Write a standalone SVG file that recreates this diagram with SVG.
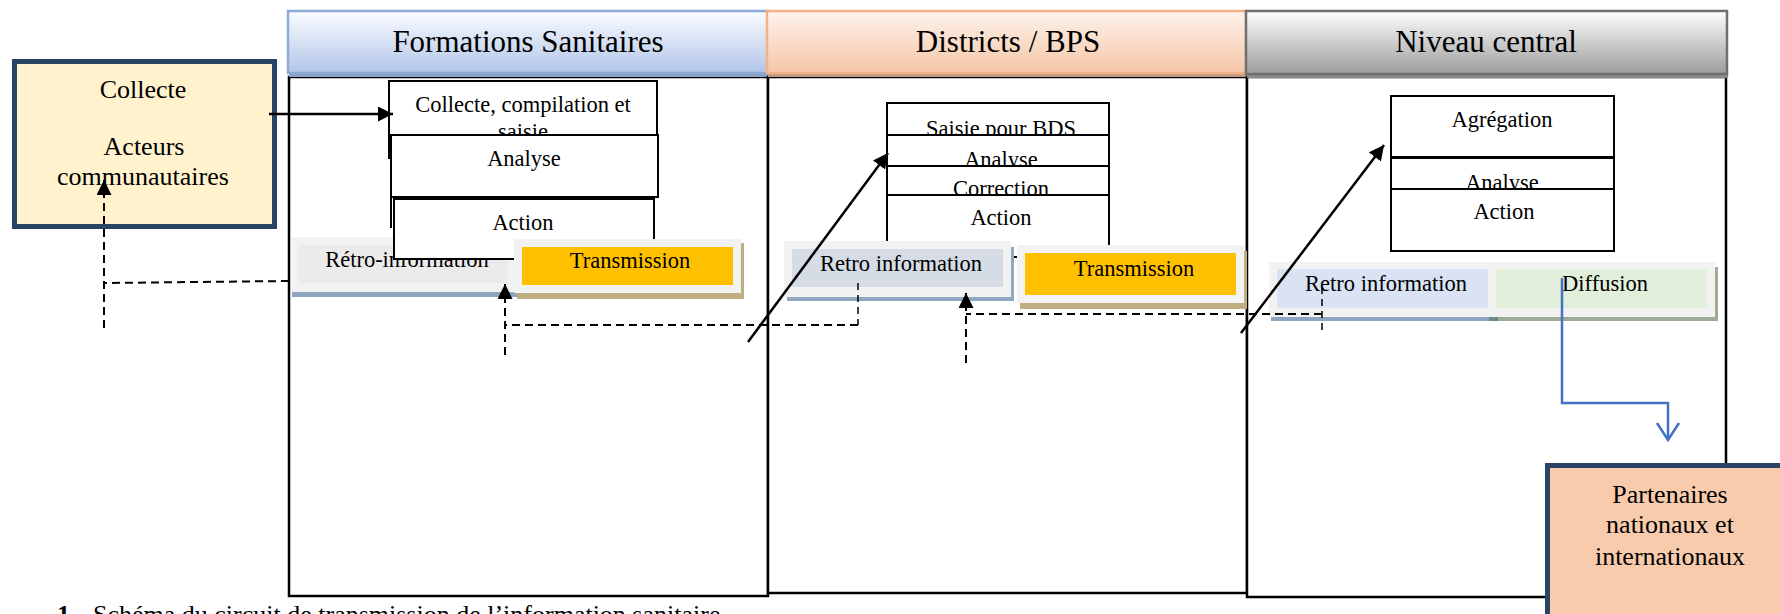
<svg xmlns="http://www.w3.org/2000/svg" width="1780" height="614" viewBox="0 0 1780 614">
<defs>
  <linearGradient id="gBlue" x1="0" y1="0" x2="0" y2="1">
    <stop offset="0" stop-color="#fbfcff"/><stop offset="1" stop-color="#b1c5e8"/>
  </linearGradient>
  <linearGradient id="gOrange" x1="0" y1="0" x2="0" y2="1">
    <stop offset="0" stop-color="#fdf3ec"/><stop offset="1" stop-color="#f6c6a6"/>
  </linearGradient>
  <linearGradient id="gGray" x1="0" y1="0" x2="0" y2="1">
    <stop offset="0" stop-color="#fefefe"/><stop offset="1" stop-color="#9c9c9c"/>
  </linearGradient>
  <marker id="ah" markerUnits="userSpaceOnUse" markerWidth="16" markerHeight="16" refX="15" refY="7.5" orient="auto" viewBox="0 0 16 16">
    <path d="M0,0 L15,7.5 L0,15 z" fill="#000"/>
  </marker>
</defs>
<style>
  .t { font-family: "Liberation Serif", "Times New Roman", serif; fill: #000; text-anchor: middle; }
  .hd { font-size: 31px; }
  .bx { font-size: 22.5px; }
  .tm { font-size: 26px; }
  .lane { fill: #fff; stroke: #000; stroke-width: 2.5; }
  .box { fill: #fff; stroke: #000; stroke-width: 2; }
  .ext { stroke: #2a4466; stroke-width: 5; }
  .dash { fill: none; stroke: #000; stroke-width: 2; stroke-dasharray: 8 5; }
  .dthin { fill: none; stroke: #000; stroke-width: 1.5; stroke-dasharray: 7 5; }
  .solid { fill: none; stroke: #000; stroke-width: 2.5; }
  .blue { fill: none; stroke: #4472c4; stroke-width: 2.5; }
</style>

<!-- Lanes -->
<g id="lane-formations">
  <rect class="lane" x="289" y="77" width="479" height="519"/>
  <rect x="289" y="14" width="480" height="63" fill="#8aa2c8"/>
  <rect x="288" y="11" width="480" height="62" fill="url(#gBlue)" stroke="#8eaadb" stroke-width="2.5"/>
  <text class="t hd" x="528" y="52">Formations Sanitaires</text>
</g>
<g id="lane-districts">
  <rect class="lane" x="768" y="77" width="479" height="516"/>
  <rect x="768" y="14" width="479" height="63" fill="#c09a84"/>
  <rect x="767" y="11" width="479" height="62" fill="url(#gOrange)" stroke="#f4b183" stroke-width="2.5"/>
  <text class="t hd" x="1008" y="52">Districts / BPS</text>
</g>
<g id="lane-central">
  <rect class="lane" x="1247" y="77" width="479" height="520"/>
  <rect x="1247" y="14" width="481" height="64" fill="#8a8a8a"/>
  <rect x="1246" y="11" width="481" height="63" fill="url(#gGray)" stroke="#6f6f6f" stroke-width="2.5"/>
  <text class="t hd" x="1486" y="52">Niveau central</text>
</g>

<!-- Formations Sanitaires nodes -->
<g id="fs-retro">
  <rect x="292" y="291" width="227" height="6" fill="#8ea5bf"/>
  <rect x="292" y="237" width="222" height="55" fill="#f2f2f2"/>
  <rect x="298" y="245" width="210" height="38" fill="#ebebeb"/>
  <text class="t bx" x="407" y="267">Rétro-information</text>
</g>
<g id="fs-collecte">
  <rect class="box" x="389" y="81" width="268" height="77"/>
  <text class="t bx" x="523" y="112">Collecte, compilation et</text>
  <text class="t bx" x="523" y="139">saisie</text>
</g>
<g id="fs-analyse">
  <rect class="box" x="391" y="135" width="267" height="62"/>
  <line x1="391" y1="197" x2="391" y2="228" stroke="#000" stroke-width="2"/>
  <text class="t bx" x="524" y="166">Analyse</text>
</g>
<g id="fs-action">
  <rect class="box" x="394" y="199" width="260" height="60"/>
  <text class="t bx" x="523" y="230">Action</text>
</g>
<g id="fs-transmission">
  <rect x="517" y="243" width="227" height="56" fill="#bfae82"/>
  <rect x="514" y="239" width="227" height="54" fill="#f2f2f2"/>
  <rect x="522" y="247" width="211" height="38" fill="#ffc000"/>
  <text class="t bx" x="630" y="268">Transmission</text>
</g>

<!-- Districts nodes -->
<g id="d-saisie">
  <rect class="box" x="887" y="103" width="222" height="47"/>
  <text class="t bx" x="1001" y="136">Saisie pour BDS</text>
</g>
<g id="d-analyse">
  <rect class="box" x="887" y="135" width="222" height="45"/>
  <text class="t bx" x="1001" y="167">Analyse</text>
</g>
<g id="d-correction">
  <rect class="box" x="887" y="166" width="222" height="45"/>
  <text class="t bx" x="1001" y="196">Correction</text>
</g>
<g id="d-action">
  <rect class="box" x="887" y="195" width="222" height="62"/>
  <text class="t bx" x="1001" y="225">Action</text>
</g>
<g id="d-retro">
  <rect x="787" y="247" width="227" height="54" fill="#8ea9c1"/>
  <rect x="784" y="241" width="227" height="56" fill="#f2f2f2"/>
  <rect x="792" y="249" width="211" height="38" fill="#d6dce5"/>
  <text class="t bx" x="901" y="271">Retro information</text>
</g>
<g id="d-transmission">
  <rect x="1020" y="251" width="227" height="58" fill="#bfae82"/>
  <rect x="1017" y="245" width="227" height="58" fill="#f2f2f2"/>
  <rect x="1025" y="253" width="211" height="42" fill="#ffc000"/>
  <text class="t bx" x="1134" y="276">Transmission</text>
</g>

<!-- Niveau central nodes -->
<g id="c-agregation">
  <rect class="box" x="1391" y="96" width="223" height="61"/>
  <text class="t bx" x="1502" y="127">Agrégation</text>
</g>
<g id="c-analyse">
  <rect class="box" x="1391" y="158" width="223" height="40"/>
  <text class="t bx" x="1502" y="190">Analyse</text>
</g>
<g id="c-action">
  <rect class="box" x="1391" y="189" width="223" height="62"/>
  <text class="t bx" x="1504" y="219">Action</text>
</g>
<g id="c-retro-diffusion">
  <rect x="1272" y="267" width="446" height="54" fill="#9fac95"/>
  <rect x="1271" y="316" width="220" height="5" fill="#8ea5bf"/>
  <rect x="1489" y="316" width="9" height="5" fill="#6e8a7e"/>
  <rect x="1269" y="262" width="446" height="55" fill="#f2f2f2"/>
  <rect x="1277" y="269" width="211" height="39" fill="#dae3f3"/>
  <rect x="1496" y="269" width="211" height="39" fill="#e2efda"/>
  <text class="t bx" x="1386" y="291">Retro information</text>
  <text class="t bx" x="1605" y="291">Diffusion</text>
</g>

<!-- External nodes -->
<g id="acteurs">
  <rect class="ext" x="14.5" y="61.5" width="260" height="165" fill="#fff2cc"/>
  <text class="t tm" x="143" y="98">Collecte</text>
  <text class="t tm" x="144" y="155">Acteurs</text>
  <text class="t tm" x="143" y="185">communautaires</text>
</g>
<g id="partenaires">
  <rect class="ext" x="1547.5" y="465.5" width="300" height="200" fill="#f8cbad"/>
  <text class="t tm" x="1670" y="503">Partenaires</text>
  <text class="t tm" x="1670" y="533">nationaux et</text>
  <text class="t tm" x="1670" y="565">internationaux</text>
</g>

<!-- Connectors -->
<g id="connectors">
  <line class="solid" x1="269" y1="114" x2="393" y2="114" marker-end="url(#ah)"/>
  <path class="dash" d="M289,281 L104,283"/>
  <line class="dash" x1="104" y1="328" x2="104" y2="180" marker-end="url(#ah)"/>
  <path class="dthin" d="M858,283 L858,325"/>
  <path class="dash" d="M858,325 L505,325"/>
  <line class="dash" x1="505" y1="355" x2="505" y2="284" marker-end="url(#ah)"/>
  <path class="dthin" d="M1322,287 L1322,333"/>
  <path class="dash" d="M1322,314 L966,314"/>
  <line class="dash" x1="966" y1="363" x2="966" y2="293" marker-end="url(#ah)"/>
  <line class="solid" x1="748" y1="342" x2="888" y2="153" marker-end="url(#ah)"/>
  <line class="solid" x1="1241" y1="333" x2="1384" y2="145" marker-end="url(#ah)"/>
  <path class="blue" d="M1562,278 V403 H1668 V440"/>
  <path class="blue" d="M1657,423 L1668,440 L1679,423"/>
</g>

<!-- Caption (cut by bottom edge, as in the reference) -->
<g id="caption">
  <text class="t tm" x="57" y="623" style="text-anchor:start;font-weight:bold">1.</text>
  <text class="t tm" x="93" y="623" style="text-anchor:start">Schéma du circuit de transmission de l’information sanitaire</text>
</g>
</svg>
